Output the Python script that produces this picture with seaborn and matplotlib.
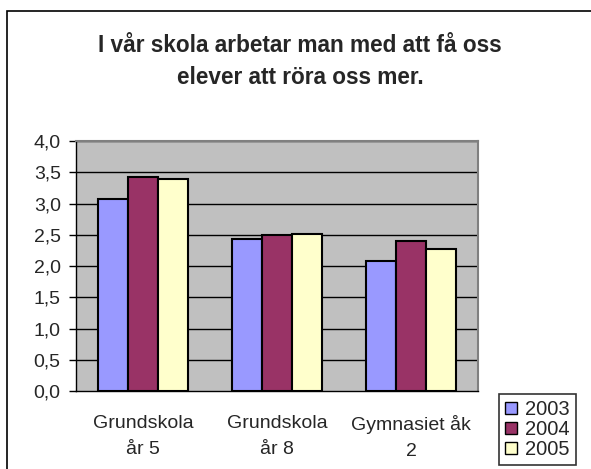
import matplotlib
matplotlib.use("Agg")
import matplotlib.pyplot as plt
import seaborn as sns
import pandas as pd
from matplotlib.patches import Rectangle, Patch

categories = ["Grundskola\når 5", "Grundskola\når 8", "Gymnasiet åk\n2"]
years = ["2003", "2004", "2005"]
v2003 = [3.07, 2.43, 2.08]
v2004 = [3.42, 2.49, 2.40]
v2005 = [3.39, 2.52, 2.27]
yticks = [0.0, 0.5, 1.0, 1.5, 2.0, 2.5, 3.0, 3.5, 4.0]
colors = ["#9999FF", "#993366", "#FFFFCC"]
title = "I vår skola arbetar man med att få oss\nelever att röra oss mer."

rows = []
for y, vals in zip(years, [v2003, v2004, v2005]):
    for c, v in zip(categories, vals):
        rows.append({"cat": c, "year": y, "value": v})
df = pd.DataFrame(rows)

sns.set_theme(style="white")
plt.rcParams["font.family"] = ["Liberation Sans", "DejaVu Sans"]

W, H = 591, 469
fig = plt.figure(figsize=(W / 100, H / 100), dpi=100)
ax = fig.add_axes([76 / W, 1 - 391 / H, (478 - 76) / W, (391 - 141) / H])
ax.set_facecolor("#C0C0C0")

sns.barplot(data=df, x="cat", y="value", hue="year", order=categories,
            hue_order=years, palette=colors, saturation=1, width=0.667, gap=0,
            edgecolor="black", linewidth=1.5, ax=ax, legend=False, zorder=3)

ax.set_ylim(0, 4.0)
ax.set_xlim(-0.5, 2.5)
ax.set_yticks(yticks)
ax.set_yticklabels([f"{t:.1f}".replace(".", ",") for t in yticks], fontsize=14)
for t in yticks[1:]:
    ax.axhline(t, color="black", linewidth=1, zorder=1)
ax.set_xticks(range(len(categories)))
ax.set_xticklabels(categories, fontsize=14, linespacing=1.75)
ax.set_xticks([-0.5, 0.5, 1.5, 2.5], minor=True)
ax.tick_params(axis="x", which="major", length=0, pad=17)
ax.tick_params(axis="x", which="minor", length=5, width=1, color="black", direction="out")
ax.tick_params(axis="y", length=5, width=1, color="black", direction="out", pad=6, left=True)
ax.set_xlabel("")
ax.set_ylabel("")
for s in ["left", "bottom"]:
    ax.spines[s].set_color("black")
    ax.spines[s].set_linewidth(1)
for s in ["top", "right"]:
    ax.spines[s].set_color("#808080")
    ax.spines[s].set_linewidth(1.5)

fig.text(300 / W, 1 - 62 / H, title, ha="center", va="center", fontsize=16.3,
         fontweight="bold", linespacing=1.5)

# outer frame
fig.patches.append(Rectangle((7 / W, -0.2), 1.2, 1 - 11 / H + 0.2,
                             transform=fig.transFigure, fill=False,
                             edgecolor="black", linewidth=1.2))

handles = [Patch(facecolor=c, edgecolor="black", linewidth=1) for c in colors]
leg = fig.legend(handles, years, loc="upper left",
                 bbox_to_anchor=(499 / W, 1 - 394 / H), fontsize=14.5,
                 frameon=True, fancybox=False, handlelength=0.6, handleheight=0.6,
                 handletextpad=0.4, labelspacing=0.05, borderpad=0.3,
                 borderaxespad=0)
leg.get_frame().set_edgecolor("black")
leg.get_frame().set_linewidth(1.2)

fig.savefig("out.png", dpi=100)
